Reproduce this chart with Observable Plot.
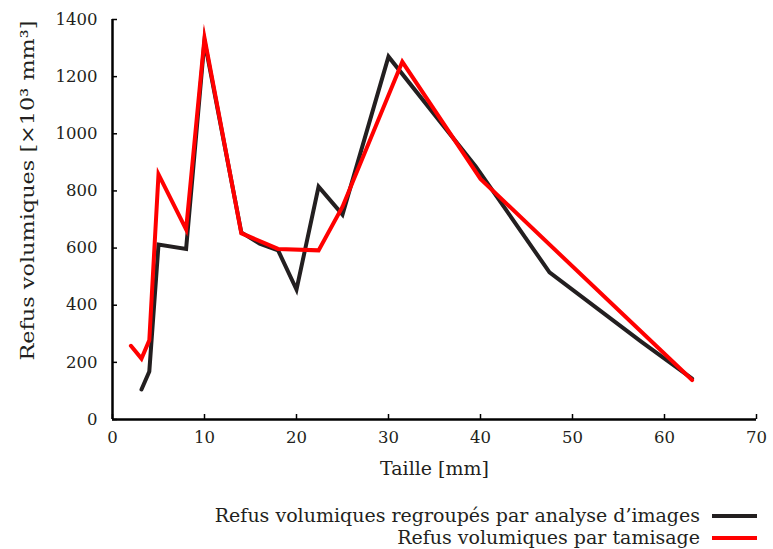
<!DOCTYPE html>
<html>
<head>
<meta charset="utf-8">
<script src="https://cdn.jsdelivr.net/npm/d3@7"></script>
<script src="https://cdn.jsdelivr.net/npm/@observablehq/plot@0.6"></script>
<style>
  html, body { margin: 0; padding: 0; background: #fff; }
  body { width: 773px; height: 549px; overflow: hidden; font-family: "DejaVu Serif", serif; color: #231f20; }
  #legend { margin-top: 14px; padding-right: 16px; text-align: right; font-size: 19px; }
  .row { height: 22px; line-height: 22px; white-space: nowrap; }
  .sw { display: inline-block; width: 45px; height: 4px; vertical-align: middle; margin-left: 12px; position: relative; top: -1px; }
</style>
</head>
<body>
<div id="chart"></div>
<script>
// Series 1: Refus volumiques regroupés par analyse d'images (black)
const imageSizes = [3.15, 4, 5, 8, 10, 14, 16, 18, 20, 22.4, 25, 30, 39.5, 47.5, 57.5, 63];
const imageValues = [105, 168, 612, 597, 1325, 655, 615, 592, 455, 815, 717, 1270, 885, 515, 272, 143];

// Series 2: Refus volumiques par tamisage (red)
const sieveSizes = [2, 3.15, 4, 5, 8, 10, 14, 18, 22.4, 25, 31.5, 40, 63];
const sieveValues = [258, 213, 277, 858, 665, 1335, 652, 597, 592, 745, 1252, 842, 138];

const xTicks = [0, 10, 20, 30, 40, 50, 60, 70];
const yTicks = [0, 200, 400, 600, 800, 1000, 1200, 1400];

const seriesNames = ["Refus volumiques regroupés par analyse d’images", "Refus volumiques par tamisage"];
const seriesColors = ["#231f20", "#ff0000"];
const xLabel = "Taille [mm]";
const yLabel = "Refus volumiques [×10³ mm³]";

const imageData = imageSizes.map((x, i) => ({x, y: imageValues[i]}));
const sieveData = sieveSizes.map((x, i) => ({x, y: sieveValues[i]}));

const W = 773, H = 490, mL = 112, mR = 17, mT = 19, mB = 71;
const plotW = W - mL - mR, plotH = H - mT - mB;

const chart = Plot.plot({
  width: W,
  height: H,
  marginLeft: mL,
  marginRight: mR,
  marginTop: mT,
  marginBottom: mB,
  style: {fontFamily: "DejaVu Serif, serif", fontSize: "16.5px", color: "#231f20", background: "white", overflow: "visible"},
  x: {domain: [0, 70]},
  y: {domain: [0, 1400]},
  marks: [
    Plot.axisX({ticks: xTicks, tickSize: 0, tickPadding: 12, tickFormat: d => String(d), label: null}),
    Plot.axisY({ticks: yTicks, tickSize: 0, tickPadding: 15, tickFormat: d => String(d), label: null}),
    Plot.text([xLabel], {frameAnchor: "bottom", textAnchor: "middle", lineAnchor: "middle", dy: 49, fill: "#231f20", fontSize: 19}),
    Plot.text([yLabel], {frameAnchor: "left", textAnchor: "middle", lineAnchor: "middle", rotate: -90, dx: -85, dy: -29, fill: "#231f20", fontSize: 19, className: "ylabel"}),
    Plot.tickX(xTicks, {x: d => d, insetTop: plotH - 5, stroke: "#000", strokeWidth: 1.5}),
    Plot.tickY(yTicks, {y: d => d, insetRight: plotW - 5, stroke: "#000", strokeWidth: 1.5}),
    Plot.ruleY([0], {stroke: "#000", strokeWidth: 2.5}),
    Plot.ruleX([0], {stroke: "#000", strokeWidth: 2.5}),
    Plot.line(imageData, {x: "x", y: "y", stroke: seriesColors[0], strokeWidth: 4, strokeLinejoin: "miter", strokeMiterlimit: 10}),
    Plot.line(sieveData, {x: "x", y: "y", stroke: seriesColors[1], strokeWidth: 4, strokeLinejoin: "miter", strokeMiterlimit: 10})
  ]
});
document.getElementById("chart").appendChild(chart);

// stretch the y label to the reference's extent
chart.querySelectorAll("text").forEach(t => {
  if (t.textContent === yLabel) {
    t.setAttribute("textLength", 340);
    t.setAttribute("lengthAdjust", "spacingAndGlyphs");
  }
});

const legend = document.createElement("div");
legend.id = "legend";
seriesNames.forEach((name, i) => {
  const row = document.createElement("div");
  row.className = "row";
  const t = document.createElement("span");
  t.textContent = name;
  const sw = document.createElement("span");
  sw.className = "sw";
  sw.style.background = seriesColors[i];
  row.appendChild(t);
  row.appendChild(sw);
  legend.appendChild(row);
});
document.body.appendChild(legend);
</script>
</body>
</html>
